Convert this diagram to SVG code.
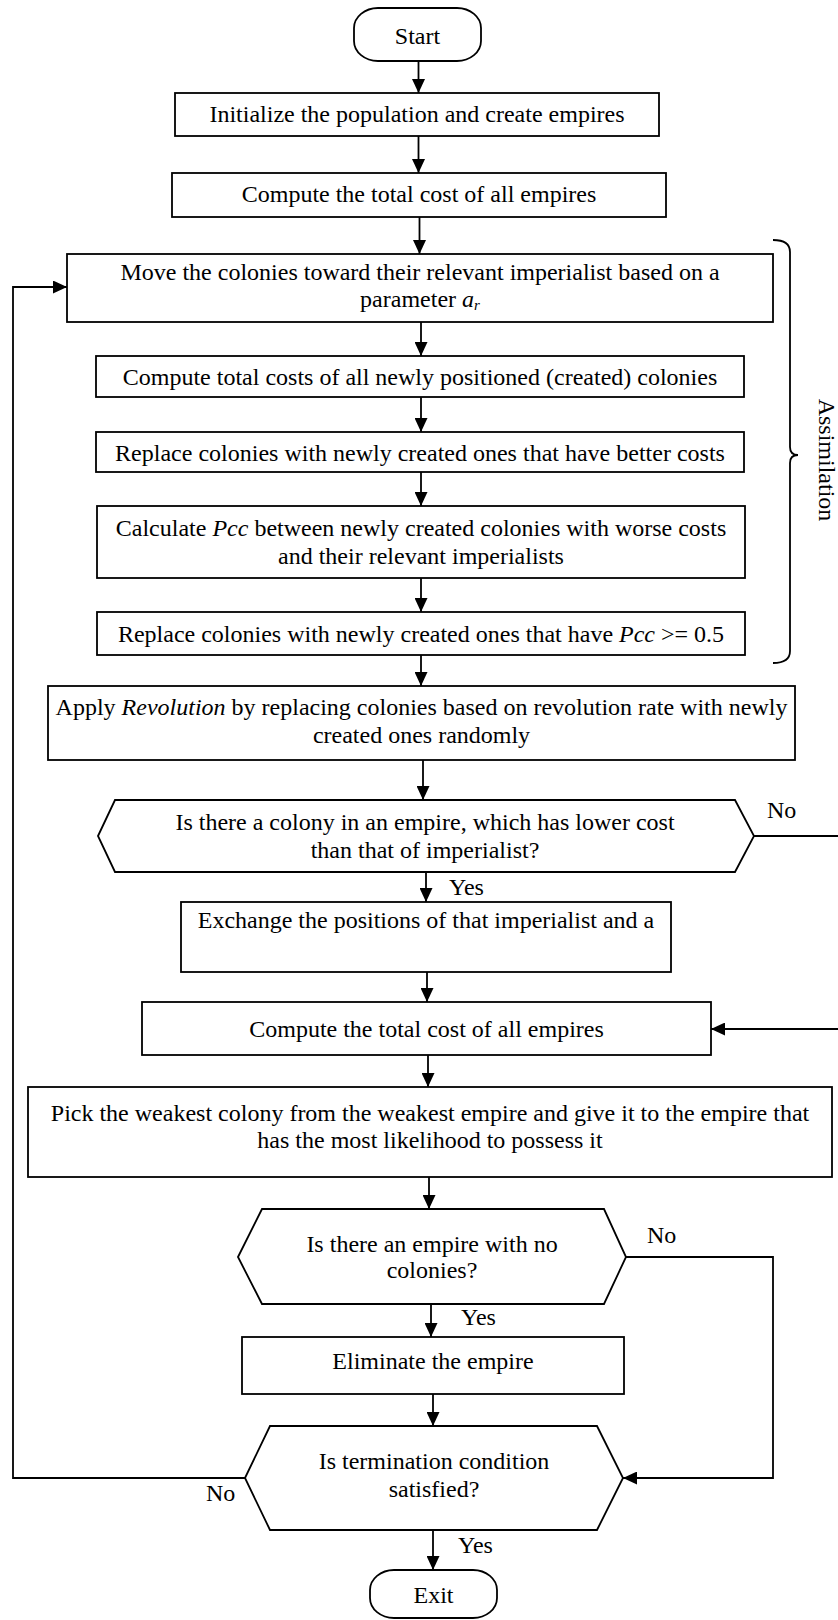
<svg xmlns="http://www.w3.org/2000/svg" width="838" height="1620" viewBox="0 0 838 1620">
<defs>
<marker id="ah" markerUnits="userSpaceOnUse" markerWidth="14" markerHeight="13" refX="14" refY="6.5" orient="auto">
<path d="M0,0 L14,6.5 L0,13 z" fill="#000"/>
</marker>
<style>
.box{fill:#fff;stroke:#000;stroke-width:1.8}
.t{font-family:"Liberation Serif","Times New Roman",serif;font-size:24px;fill:#000;text-anchor:middle}
.l{font-family:"Liberation Serif","Times New Roman",serif;font-size:24px;fill:#000}
.c{fill:none;stroke:#000;stroke-width:1.8}
.i{font-style:italic}
</style>
</defs>
<rect width="838" height="1620" fill="#fff"/>

<g id="connectors">
<line class="c" x1="418.5" y1="61" x2="418.5" y2="93" marker-end="url(#ah)"/>
<line class="c" x1="418.5" y1="136" x2="418.5" y2="173" marker-end="url(#ah)"/>
<line class="c" x1="419.5" y1="217" x2="419.5" y2="254" marker-end="url(#ah)"/>
<line class="c" x1="421" y1="322" x2="421" y2="356" marker-end="url(#ah)"/>
<line class="c" x1="421" y1="397" x2="421" y2="432" marker-end="url(#ah)"/>
<line class="c" x1="421" y1="472" x2="421" y2="506" marker-end="url(#ah)"/>
<line class="c" x1="421" y1="578" x2="421" y2="612" marker-end="url(#ah)"/>
<line class="c" x1="421" y1="655" x2="421" y2="686" marker-end="url(#ah)"/>
<line class="c" x1="423" y1="760" x2="423" y2="800" marker-end="url(#ah)"/>
<line class="c" x1="426" y1="872" x2="426" y2="902" marker-end="url(#ah)"/>
<line class="c" x1="427" y1="972" x2="427" y2="1002" marker-end="url(#ah)"/>
<path class="c" d="M754,836 L850,836 L850,1029 L711,1029" marker-end="url(#ah)"/>
<line class="c" x1="428" y1="1055" x2="428" y2="1087" marker-end="url(#ah)"/>
<line class="c" x1="429" y1="1177" x2="429" y2="1209" marker-end="url(#ah)"/>
<line class="c" x1="431" y1="1304" x2="431" y2="1337" marker-end="url(#ah)"/>
<line class="c" x1="433" y1="1394" x2="433" y2="1426" marker-end="url(#ah)"/>
<path class="c" d="M626,1257 L773,1257 L773,1478 L623,1478" marker-end="url(#ah)"/>
<path class="c" d="M245,1478 L13,1478 L13,287 L67,287" marker-end="url(#ah)"/>
<line class="c" x1="433" y1="1530" x2="433" y2="1570" marker-end="url(#ah)"/>
<text class="l" x="767" y="818">No</text>
<text class="l" x="449" y="895">Yes</text>
<text class="l" x="647" y="1243">No</text>
<text class="l" x="461" y="1325">Yes</text>
<text class="l" x="206" y="1501">No</text>
<text class="l" x="458" y="1553">Yes</text>
</g>

<g id="start">
<rect class="box" x="354" y="8" width="127" height="53" rx="24" ry="20"/>
<text class="t" x="417.5" y="44">Start</text>
</g>
<g id="init">
<rect class="box" x="175" y="93" width="484" height="43"/>
<text class="t" x="417" y="122">Initialize the population and create empires</text>
</g>
<g id="cost1">
<rect class="box" x="172" y="173" width="494" height="44"/>
<text class="t" x="419" y="202">Compute the total cost of all empires</text>
</g>
<g id="move">
<rect class="box" x="67" y="254" width="706" height="68"/>
<text class="t" x="420" y="280">Move the colonies toward their relevant imperialist based on a</text>
<text class="t" x="420" y="307">parameter <tspan class="i">a</tspan><tspan class="i" font-size="15" dy="3">r</tspan></text>
</g>
<g id="newcost">
<rect class="box" x="96" y="356" width="648" height="41"/>
<text class="t" x="420" y="385">Compute total costs of all newly positioned (created) colonies</text>
</g>
<g id="replace1">
<rect class="box" x="96" y="432" width="648" height="40"/>
<text class="t" x="420" y="461">Replace colonies with newly created ones that have better costs</text>
</g>
<g id="calc">
<rect class="box" x="97" y="506" width="648" height="72"/>
<text class="t" x="421" y="536">Calculate <tspan class="i">Pcc</tspan> between newly created colonies with worse costs</text>
<text class="t" x="421" y="564">and their relevant imperialists</text>
</g>
<g id="replace2">
<rect class="box" x="97" y="612" width="648" height="43"/>
<text class="t" x="421" y="642">Replace colonies with newly created ones that have <tspan class="i">Pcc</tspan> &gt;= 0.5</text>
</g>
<g id="assimilation">
<path class="c" d="M773,240 Q790,240 790,252 L790,447 Q790,455 798,455 Q790,455 790,463 L790,651 Q790,663 773,663" stroke-width="2"/>
<text class="t" transform="translate(819,460) rotate(90)" x="0" y="0">Assimilation</text>
</g>
<g id="revolution">
<rect class="box" x="48" y="686" width="747" height="74"/>
<text class="t" x="421.5" y="715">Apply <tspan class="i">Revolution</tspan> by replacing colonies based on revolution rate with newly</text>
<text class="t" x="421.5" y="743">created ones randomly</text>
</g>
<g id="decision1">
<polygon class="box" points="98,836 115,800 735,800 754,836 735,872 115,872"/>
<text class="t" x="425" y="830">Is there a colony in an empire, which has lower cost</text>
<text class="t" x="425" y="858">than that of imperialist?</text>
</g>
<g id="exchange">
<rect class="box" x="181" y="902" width="490" height="70"/>
<text class="t" x="426" y="928">Exchange the positions of that imperialist and a</text>
</g>
<g id="cost2">
<rect class="box" x="142" y="1002" width="569" height="53"/>
<text class="t" x="426.5" y="1037">Compute the total cost of all empires</text>
</g>
<g id="pick">
<rect class="box" x="28" y="1087" width="804" height="90"/>
<text class="t" x="430" y="1121">Pick the weakest colony from the weakest empire and give it to the empire that</text>
<text class="t" x="430" y="1148">has the most likelihood to possess it</text>
</g>
<g id="decision2">
<polygon class="box" points="238,1257 262,1209 604,1209 626,1257 604,1304 262,1304"/>
<text class="t" x="432" y="1252">Is there an empire with no</text>
<text class="t" x="432" y="1278">colonies?</text>
</g>
<g id="eliminate">
<rect class="box" x="242" y="1337" width="382" height="57"/>
<text class="t" x="433" y="1369">Eliminate the empire</text>
</g>
<g id="decision3">
<polygon class="box" points="245,1478 270,1426 597,1426 623,1478 597,1530 270,1530"/>
<text class="t" x="434" y="1469">Is termination condition</text>
<text class="t" x="434" y="1497">satisfied?</text>
</g>
<g id="exit">
<rect class="box" x="370" y="1570" width="127" height="48" rx="24" ry="20"/>
<text class="t" x="433.5" y="1603">Exit</text>
</g>
</svg>
